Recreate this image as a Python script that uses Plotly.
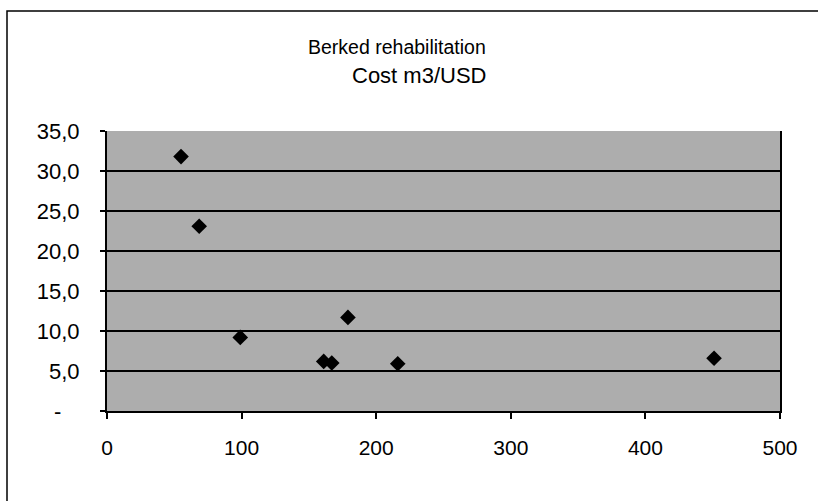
import plotly.graph_objects as go

x_vals = [55, 68.5, 99, 161, 167, 179, 216, 451]
y_vals = [31.8, 23.1, 9.2, 6.2, 6.0, 11.7, 5.9, 6.6]

y_tickvals = [0, 5, 10, 15, 20, 25, 30, 35]
y_ticktext = ["-\u00a0\u00a0\u00a0", "5,0", "10,0", "15,0", "20,0", "25,0", "30,0", "35,0"]
x_tickvals = [0, 100, 200, 300, 400, 500]

W, H = 818, 501
L, R, T, B = 107, 780, 131, 411
pw, ph = R - L, B - T

fig = go.Figure()
fig.add_trace(go.Scatter(
    x=x_vals, y=y_vals, mode="markers",
    marker=dict(symbol="diamond", size=12, color="black"),
    showlegend=False,
))

def px2paper_x(px):
    return (px - L) / pw

def px2paper_y(py):
    return (B - py) / ph

fig.update_layout(
    width=W, height=H,
    margin=dict(l=L, r=W - R, t=T, b=H - B),
    paper_bgcolor="white",
    plot_bgcolor="#adadad",
    font=dict(family="Liberation Sans, Arial, sans-serif", size=16, color="black"),
    xaxis=dict(
        range=[0, 500], tickvals=x_tickvals, ticktext=[str(v) for v in x_tickvals],
        showgrid=False, zeroline=False, showline=True, linecolor="black", linewidth=2,
        ticks="outside", ticklen=6, tickcolor="black", tickwidth=1.5,
        tickfont=dict(size=21), ticklabelstandoff=11,
    ),
    yaxis=dict(
        range=[0, 35], tickvals=y_tickvals, ticktext=y_ticktext,
        showgrid=True, gridcolor="black", gridwidth=1.5, zeroline=False,
        showline=True, linecolor="black", linewidth=2, mirror=True,
        ticks="outside", ticklen=5, tickcolor="black", tickwidth=1.5,
        tickfont=dict(size=22), ticklabelstandoff=16,
    ),
    shapes=[dict(
        type="rect", xref="paper", yref="paper",
        x0=px2paper_x(7), x1=px2paper_x(830), y0=px2paper_y(520), y1=px2paper_y(11),
        line=dict(color="black", width=1.5), fillcolor="rgba(0,0,0,0)", layer="below",
    )],
    annotations=[
        dict(text="Berked rehabilitation", xref="paper", yref="paper",
             x=px2paper_x(397), y=px2paper_y(47), showarrow=False,
             xanchor="center", yanchor="middle", font=dict(size=19.5)),
        dict(text="Cost m3/USD", xref="paper", yref="paper",
             x=px2paper_x(419), y=px2paper_y(75), showarrow=False,
             xanchor="center", yanchor="middle", font=dict(size=22)),
    ],
)

fig.write_html("out.html")
